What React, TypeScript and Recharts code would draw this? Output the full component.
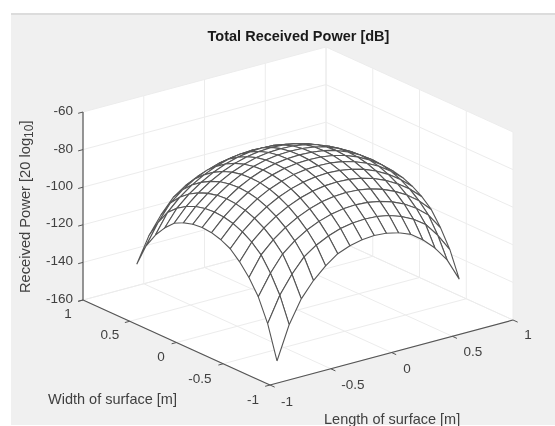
import { ScatterChart, Scatter, XAxis, YAxis } from "recharts";

const WIDTH = 555;
const HEIGHT = 426;

// mesh nodes, same step on both horizontal axes
const lengthValues = [-0.75, -0.65, -0.55, -0.45, -0.35, -0.25, -0.15, -0.05, 0.05, 0.15, 0.25, 0.35, 0.45, 0.55, 0.65, 0.75];
const widthValues = [-0.75, -0.65, -0.55, -0.45, -0.35, -0.25, -0.15, -0.05, 0.05, 0.15, 0.25, 0.35, 0.45, 0.55, 0.65, 0.75];

// received power [dB], one row per length value
const power = [
  [-157.2, -139.6, -127.6, -119.6, -113.5, -108.8, -106.3, -104.8, -104.3, -104.8, -106.3, -108.8, -113.5, -119.6, -127.6, -139.6],
  [-139.6, -126.2, -116.8, -109.3, -104.8, -101.6, -99.4, -98.2, -97.8, -98.2, -99.4, -101.6, -104.8, -109.3, -116.8, -126.2],
  [-127.6, -116.8, -108.3, -103, -99, -96.1, -94.1, -92.9, -92.5, -92.9, -94.1, -96.1, -99, -103, -108.3, -116.8],
  [-119.6, -109.3, -103, -98.2, -94.5, -91.7, -89.7, -88.6, -88.2, -88.6, -89.7, -91.7, -94.5, -98.2, -103, -109.3],
  [-113.5, -104.8, -99, -94.5, -90.9, -88.2, -86.3, -85.2, -84.9, -85.2, -86.3, -88.2, -90.9, -94.5, -99, -104.8],
  [-108.8, -101.6, -96.1, -91.7, -88.2, -85.6, -83.8, -82.7, -82.3, -82.7, -83.8, -85.6, -88.2, -91.7, -96.1, -101.6],
  [-106.3, -99.4, -94.1, -89.7, -86.3, -83.8, -82, -81, -80.7, -81, -82, -83.8, -86.3, -89.7, -94.1, -99.4],
  [-104.8, -98.2, -92.9, -88.6, -85.2, -82.7, -81, -80.1, -79.8, -80.1, -81, -82.7, -85.2, -88.6, -92.9, -98.2],
  [-104.3, -97.8, -92.5, -88.2, -84.9, -82.3, -80.7, -79.8, -79.5, -79.8, -80.7, -82.3, -84.9, -88.2, -92.5, -97.8],
  [-104.8, -98.2, -92.9, -88.6, -85.2, -82.7, -81, -80.1, -79.8, -80.1, -81, -82.7, -85.2, -88.6, -92.9, -98.2],
  [-106.3, -99.4, -94.1, -89.7, -86.3, -83.8, -82, -81, -80.7, -81, -82, -83.8, -86.3, -89.7, -94.1, -99.4],
  [-108.8, -101.6, -96.1, -91.7, -88.2, -85.6, -83.8, -82.7, -82.3, -82.7, -83.8, -85.6, -88.2, -91.7, -96.1, -101.6],
  [-113.5, -104.8, -99, -94.5, -90.9, -88.2, -86.3, -85.2, -84.9, -85.2, -86.3, -88.2, -90.9, -94.5, -99, -104.8],
  [-119.6, -109.3, -103, -98.2, -94.5, -91.7, -89.7, -88.6, -88.2, -88.6, -89.7, -91.7, -94.5, -98.2, -103, -109.3],
  [-127.6, -116.8, -108.3, -103, -99, -96.1, -94.1, -92.9, -92.5, -92.9, -94.1, -96.1, -99, -103, -108.3, -116.8],
  [-139.6, -126.2, -116.8, -109.3, -104.8, -101.6, -99.4, -98.2, -97.8, -98.2, -99.4, -101.6, -104.8, -109.3, -116.8, -126.2],
];

const zTicks = [-60, -80, -100, -120, -140, -160];
const horizontalTicks = [-1, -0.5, 0, 0.5, 1];

const Z_MIN = -160;
const Z_MAX = -60;

// orthographic view of the axes box, in page pixels
const project = (l: number, w: number, z: number) => ({
  x: 298 + 121.5 * l - 93.5 * w,
  y: 310 - 32.5 * l - 42.5 * w - 1.88 * (z - Z_MIN),
});

const NoDot = () => <g />;

const path = (
  key: string,
  points: { x: number; y: number }[],
  stroke: string,
  strokeWidth: number,
  fill = "none"
) => (
  <Scatter
    key={key}
    data={points}
    shape={NoDot}
    line={{ stroke, strokeWidth, fill }}
    isAnimationActive={false}
  />
);

const GRID = "#ececec";
const AXIS = "#555555";
const MESH = "#555555";
const TEXT = "#404040";

const walls = [
  path("wall-w", [project(-1, 1, Z_MIN), project(1, 1, Z_MIN), project(1, 1, Z_MAX), project(-1, 1, Z_MAX), project(-1, 1, Z_MIN)], "#fff", 0, "#fff"),
  path("wall-l", [project(1, 1, Z_MIN), project(1, -1, Z_MIN), project(1, -1, Z_MAX), project(1, 1, Z_MAX), project(1, 1, Z_MIN)], "#fff", 0, "#fff"),
  path("floor", [project(-1, -1, Z_MIN), project(1, -1, Z_MIN), project(1, 1, Z_MIN), project(-1, 1, Z_MIN), project(-1, -1, Z_MIN)], "#fff", 0, "#fff"),
];

const grid = [
  ...horizontalTicks.flatMap((t) => [
    path(`fl-${t}`, [project(t, -1, Z_MIN), project(t, 1, Z_MIN), project(t, 1, Z_MAX)], GRID, 1),
    path(`fw-${t}`, [project(-1, t, Z_MIN), project(1, t, Z_MIN), project(1, t, Z_MAX)], GRID, 1),
  ]),
  ...zTicks.map((z) => path(`gz-${z}`, [project(-1, 1, z), project(1, 1, z), project(1, -1, z)], GRID, 1)),
];

const axes = [
  path("axis-z", [project(-1, 1, Z_MIN), project(-1, 1, Z_MAX)], AXIS, 1.2),
  path("axis-w", [project(-1, 1, Z_MIN), project(-1, -1, Z_MIN)], AXIS, 1.2),
  path("axis-l", [project(-1, -1, Z_MIN), project(1, -1, Z_MIN)], AXIS, 1.2),
  ...zTicks.map((z) => path(`tz-${z}`, [project(-1, 1, z), project(-1.04, 1, z)], AXIS, 1)),
  ...horizontalTicks.map((t) => path(`tw-${t}`, [project(-1, t, Z_MIN), project(-1.04, t, Z_MIN)], AXIS, 1)),
  ...horizontalTicks.map((t) => path(`tl-${t}`, [project(t, -1, Z_MIN), project(t, -1.05, Z_MIN)], AXIS, 1)),
];

// painted back to front so that the white cells hide what is behind them
const meshCells = [];
for (let i = lengthValues.length - 2; i >= 0; i--) {
  for (let j = widthValues.length - 2; j >= 0; j--) {
    const corners = [
      project(lengthValues[i], widthValues[j], power[i][j]),
      project(lengthValues[i + 1], widthValues[j], power[i + 1][j]),
      project(lengthValues[i + 1], widthValues[j + 1], power[i + 1][j + 1]),
      project(lengthValues[i], widthValues[j + 1], power[i][j + 1]),
      project(lengthValues[i], widthValues[j], power[i][j]),
    ];
    meshCells.push(path(`cell-${i}-${j}`, corners, MESH, 1.1, "#fff"));
  }
}

const tickFont = { fontFamily: "Liberation Sans", fontSize: 13.5, fill: TEXT };

const zLabels = [
  { label: "-60", y: 110 },
  { label: "-80", y: 148 },
  { label: "-100", y: 185 },
  { label: "-120", y: 222 },
  { label: "-140", y: 260 },
  { label: "-160", y: 298 },
];
const widthLabels = [
  { label: "1", x: 68, y: 313 },
  { label: "0.5", x: 110, y: 334 },
  { label: "0", x: 161, y: 356 },
  { label: "-0.5", x: 200, y: 378 },
  { label: "-1", x: 253, y: 399 },
];
const lengthLabels = [
  { label: "-1", x: 287, y: 401 },
  { label: "-0.5", x: 353, y: 384 },
  { label: "0", x: 407, y: 368 },
  { label: "0.5", x: 473, y: 351 },
  { label: "1", x: 528, y: 334 },
];

export default function App() {
  return (
    <div style={{ position: "absolute", left: 0, top: 0, width: WIDTH, height: HEIGHT, background: "#fff", overflow: "hidden" }}>
      <div style={{ position: "absolute", left: 11, top: 13, right: 0, bottom: 1, background: "#f0f0f0", borderTop: "2px solid #dcdcdc" }} />
      <div style={{ position: "absolute", left: 0, top: 0, filter: "blur(0.45px)" }}>
        <ScatterChart width={WIDTH} height={HEIGHT} margin={{ top: 0, right: 0, bottom: 0, left: 0 }}>
          <XAxis type="number" dataKey="x" domain={[0, WIDTH]} hide />
          <YAxis type="number" dataKey="y" domain={[0, HEIGHT]} reversed hide />
          {walls}
          {grid}
          {axes}
          {meshCells}
          <text x={298.5} y={41} textAnchor="middle" fontFamily="Liberation Sans" fontWeight="bold" fontSize={14.5} fill="#1a1a1a">
            Total Received Power [dB]
          </text>
          {zLabels.map((t) => (
            <text key={t.label} x={73} y={t.y} textAnchor="end" dominantBaseline="central" {...tickFont}>
              {t.label}
            </text>
          ))}
          {[...widthLabels, ...lengthLabels].map((t, i) => (
            <text key={i} x={t.x} y={t.y} textAnchor="middle" dominantBaseline="central" {...tickFont}>
              {t.label}
            </text>
          ))}
          <text x={48} y={404} fontFamily="Liberation Sans" fontSize={14.5} fill={TEXT}>
            Width of surface [m]
          </text>
          <text x={324} y={424} fontFamily="Liberation Sans" fontSize={14.5} fill={TEXT}>
            Length of surface [m]
          </text>
          <text transform="rotate(-90 30 293)" x={30} y={293} fontFamily="Liberation Sans" fontSize={14.7} fill={TEXT}>
            Received Power [20 log
            <tspan dy={3} fontSize={12}>10</tspan>
            <tspan dy={-3}>]</tspan>
          </text>
        </ScatterChart>
      </div>
    </div>
  );
}
